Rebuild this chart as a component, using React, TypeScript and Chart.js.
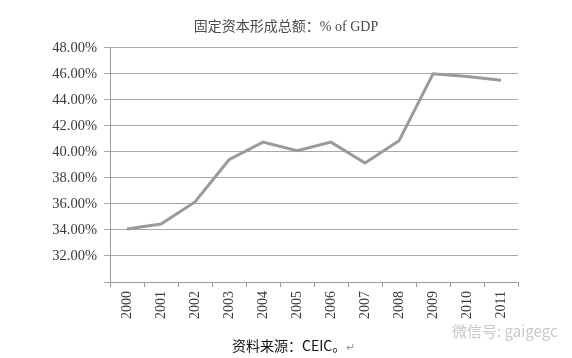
import React, { useEffect, useRef } from "react";
import { Chart, registerables } from "chart.js";

Chart.register(...registerables);

const title = "固定资本形成总额：% of GDP";
const years = ["2000", "2001", "2002", "2003", "2004", "2005", "2006", "2007", "2008", "2009", "2010", "2011"];
const gfcfShare = [34.08, 34.45, 36.15, 39.4, 40.75, 40.1, 40.75, 39.15, 40.85, 46.0, 45.8, 45.5];
const yMin = 30;
const yMax = 48;
const yStep = 2;
const caption = "资料来源：CEIC。";
const watermark = "微信号: gaigegc";

export default function App() {
  const ref = useRef<HTMLCanvasElement | null>(null);

  useEffect(() => {
    document.body.style.margin = "0";
    const ctx = ref.current;
    if (!ctx) return;
    const serif = '"Liberation Serif", "DejaVu Serif", "Noto Sans CJK SC", serif';
    const chart = new Chart(ctx, {
      type: "line",
      data: {
        labels: years,
        datasets: [
          {
            data: gfcfShare,
            borderColor: "#9a9a9a",
            borderWidth: 3,
            pointRadius: 0,
            tension: 0,
            fill: false,
            yAxisID: "y",
          },
        ],
      },
      options: {
        animation: false,
        responsive: false,
        maintainAspectRatio: false,
        layout: { padding: { left: 0, right: 0, top: 0, bottom: 0 } },
        plugins: {
          legend: { display: false },
          tooltip: { enabled: false },
          title: {
            display: true,
            text: title,
            color: "#4a4a4a",
            font: { family: serif, size: 14, weight: "normal" },
            padding: { top: 19, bottom: 12 },
          },
        },
        scales: {
          x: {
            type: "category",
            offset: true,
            grid: {
              offset: true,
              drawOnChartArea: false,
              drawTicks: true,
              tickLength: 5,
              color: "#9a9a9a",
            },
            border: { display: true, color: "#9a9a9a", width: 1 },
            ticks: {
              minRotation: 90,
              maxRotation: 90,
              autoSkip: false,
              color: "#3a3a3a",
              padding: 4,
              font: { family: serif, size: 14 },
            },
            afterFit: (s: any) => {
              s.height = 76;
            },
          },
          y: {
            position: "left",
            min: yMin,
            max: yMax,
            grid: {
              color: "#a8a8a8",
              lineWidth: 1,
              drawTicks: true,
              tickLength: 6,
            },
            border: { display: true, color: "#9a9a9a", width: 1 },
            ticks: {
              stepSize: yStep,
              color: "#3a3a3a",
              padding: 7,
              font: { family: serif, size: 14.5 },
              callback: (v: any) => (Number(v) === yMin ? "" : Number(v).toFixed(2) + "%"),
            },
            afterFit: (s: any) => {
              s.width = 110;
            },
          },
          yRight: {
            position: "right",
            display: true,
            min: yMin,
            max: yMax,
            grid: { display: false, drawOnChartArea: false },
            border: { display: false },
            ticks: { display: false },
            afterFit: (s: any) => {
              s.width = 54;
            },
          },
        },
      },
    });
    return () => chart.destroy();
  }, []);

  return (
    <div style={{ position: "relative", width: 572, height: 358, background: "#fff", overflow: "hidden" }}>
      <canvas ref={ref} width={572} height={358} style={{ display: "block" }} />
      <div
        style={{
          position: "absolute",
          left: 232,
          top: 335,
          fontFamily: '"Noto Sans CJK SC", sans-serif',
          fontSize: 14,
          color: "#111",
          whiteSpace: "nowrap",
        }}
      >
        {caption}
        <span style={{ color: "#999", fontSize: 11 }}>↵</span>
      </div>
      <div
        style={{
          position: "absolute",
          left: 452,
          top: 320,
          fontFamily: '"Noto Sans CJK SC", sans-serif',
          fontSize: 15,
          color: "#c8c8c8",
          whiteSpace: "nowrap",
        }}
      >
        {watermark}
      </div>
    </div>
  );
}
